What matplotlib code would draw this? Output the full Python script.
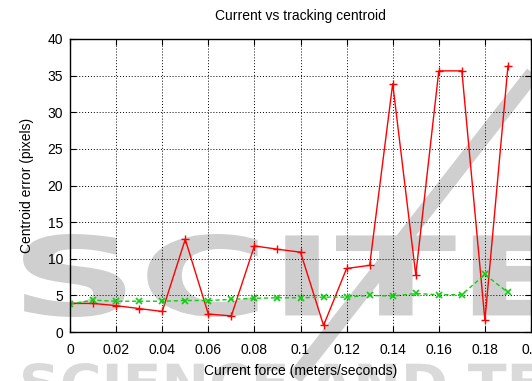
import matplotlib
matplotlib.use('Agg')
import matplotlib.pyplot as plt
from matplotlib.textpath import TextPath
from matplotlib.patches import PathPatch
from matplotlib.font_manager import FontProperties
from matplotlib.lines import Line2D
import matplotlib.transforms as mtransforms

plt.rcParams['font.family'] = ['Liberation Sans', 'DejaVu Sans']

# Datos: fuerza de corriente vs error del centroide
fuerza = [0.00, 0.01, 0.02, 0.03, 0.04, 0.05, 0.06, 0.07, 0.08, 0.09,
          0.10, 0.11, 0.12, 0.13, 0.14, 0.15, 0.16, 0.17, 0.18, 0.19]
error_rojo = [3.9, 3.9, 3.6, 3.2, 2.8, 12.65, 2.45, 2.2, 11.75, 11.3,
              10.9, 0.9, 8.67, 9.1, 33.9, 7.8, 35.65, 35.65, 1.6, 36.3]
error_verde = [3.8, 4.35, 4.2, 4.2, 4.2, 4.3, 4.3, 4.45, 4.6, 4.67,
               4.67, 4.76, 4.76, 5.0, 4.9, 5.26, 5.08, 5.1, 7.85, 5.4]

xticks = [0, 0.02, 0.04, 0.06, 0.08, 0.1, 0.12, 0.14, 0.16, 0.18, 0.2]
xtick_labels = ['0', '0.02', '0.04', '0.06', '0.08', '0.1', '0.12', '0.14', '0.16', '0.18', '0.2']
yticks = [0, 5, 10, 15, 20, 25, 30, 35, 40]

W, H = 532, 381
fig = plt.figure(figsize=(W / 100, H / 100), dpi=100)

gris = '#cfcfcf'


def palabra(texto, x0, y_top, x1, y_bot, color):
    # texto de fondo escalado a una caja en pixeles (y desde arriba)
    tp = TextPath((0, 0), texto, size=1,
                  prop=FontProperties(family='DejaVu Sans', weight='bold'))
    ext = tp.get_extents()
    sx = (x1 - x0) / ext.width / 100
    sy = (y_bot - y_top) / ext.height / 100
    tr = (mtransforms.Affine2D().translate(-ext.x0, -ext.y0)
          .scale(sx, sy).translate(x0 / 100, (H - y_bot) / 100))
    patch = PathPatch(tp, transform=tr + fig.dpi_scale_trans,
                      facecolor=color, edgecolor='none', zorder=-5)
    fig.add_artist(patch)


palabra('SCITE', 23, 234, 565, 317, gris)
palabra('SCIENCE AND TECHNOLOGY', 23, 363, 900, 403, '#dadada')
fig.add_artist(Line2D([295 / 100, 545 / 100], [(H - 378) / 100, (H - 58) / 100],
                      transform=fig.dpi_scale_trans, color=gris,
                      linewidth=11, solid_capstyle='butt', zorder=-5))

ax = fig.add_axes([70 / W, 49 / H, 461 / W, 293 / H])
ax.patch.set_facecolor('none')

ax.plot(fuerza, error_rojo, color='#ff0000', linewidth=1.0,
        marker='+', markersize=6, markeredgewidth=1.0)
ax.plot(fuerza, error_verde, color='#11cc11', linewidth=1.0, linestyle=(0, (3, 2)),
        marker='x', markersize=4.5, markeredgewidth=1.2)

ax.set_xlim(0, 0.2)
ax.set_ylim(0, 40)
ax.set_xticks(xticks)
ax.set_xticklabels(xtick_labels)
ax.set_yticks(yticks)
ax.tick_params(direction='in', top=True, right=True, length=4, width=0.8,
               labelsize=10)
ax.tick_params(axis='x', pad=8)
ax.tick_params(axis='y', pad=5)
ax.grid(True, linestyle=(0, (1, 2)), color='black', linewidth=0.7)
for s in ax.spines.values():
    s.set_linewidth(1.0)

ax.set_title('Current vs tracking centroid', fontsize=10, pad=14)
ax.set_xlabel('Current force (meters/seconds)', fontsize=10, labelpad=5)
ax.set_ylabel('Centroid error (pixels)', fontsize=10, labelpad=10)

fig.savefig('out.png', dpi=100)
